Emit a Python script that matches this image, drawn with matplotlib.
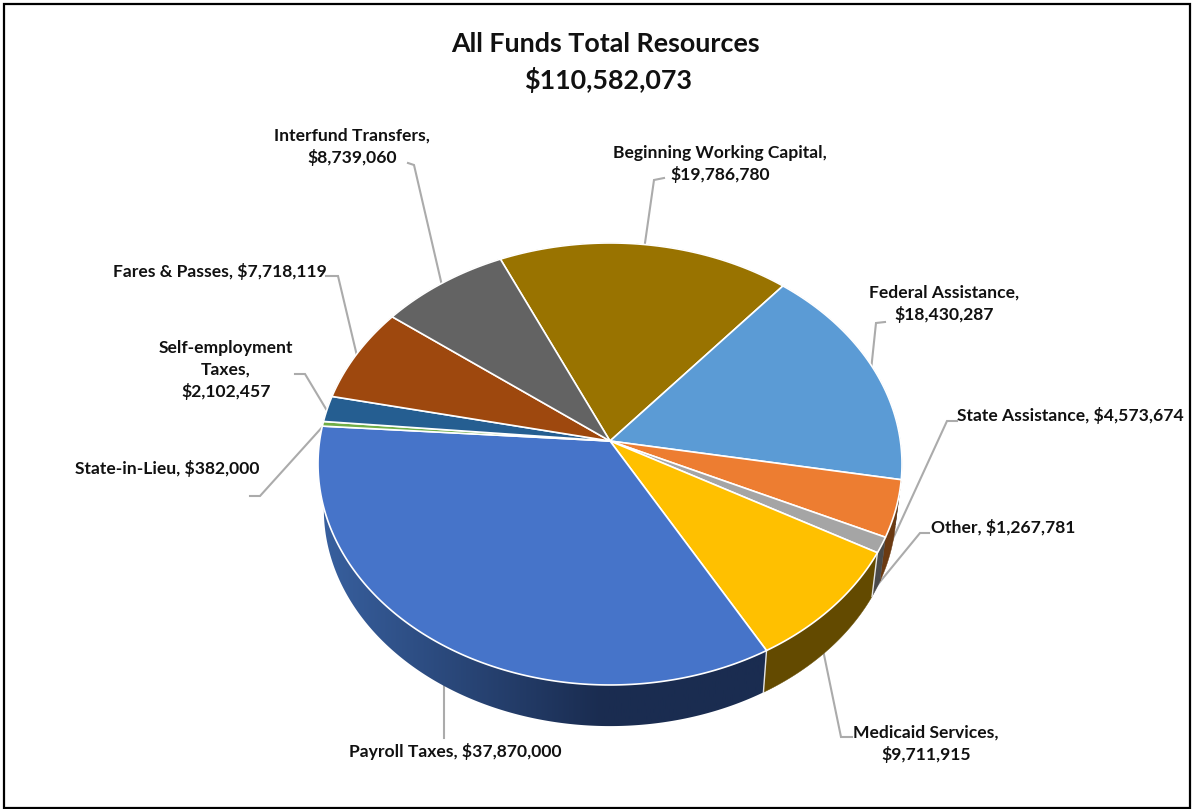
import numpy as np
import matplotlib
matplotlib.use("Agg")
import matplotlib.pyplot as plt
from matplotlib.colors import to_rgb

plt.rcParams['font.family'] = ['Lato', 'DejaVu Sans']

title = "All Funds Total Resources"
total_resources = 110582073

# clockwise from the top-left edge of Beginning Working Capital
names = ["Beginning Working Capital", "Federal Assistance", "State Assistance", "Other",
         "Medicaid Services", "Payroll Taxes", "State-in-Lieu", "Self-employment\nTaxes",
         "Fares & Passes", "Interfund Transfers"]
values = [19786780, 18430287, 4573674, 1267781, 9711915,
          37870000, 382000, 2102457, 7718119, 8739060]
top_colors = ["#997300", "#5B9BD5", "#ED7D31", "#A5A5A5", "#FFC000",
              "#4674C9", "#70AD47", "#255E91", "#9E480E", "#636363"]
side_colors = ["#5c4500", "#375d80", "#6b3a12", "#4a4a4a", "#634a00",
               "#1a2c50", "#436829", "#163857", "#5f2b08", "#3b3b3b"]

# label text anchor, alignment, line break after the name or not
label_pos = [(720, 164, "center", True), (944, 304, "center", True), (957, 415, "left", False),
             (931, 528, "left", False), (926, 744, "center", True), (349, 751, "left", False),
             (75, 468, "left", False), (226, 370, "center", True), (113, 272, "left", False),
             (352, 147, "center", True)]
leaders = [[(664, 178), (654, 180), (644, 250)],
           [(885, 322), (876, 323), (870, 380)],
           [(957, 421), (947, 421), (885, 556)],
           [(929, 533), (920, 533), (870, 594)],
           [(852, 737), (841, 737), (822, 645)],
           [(444, 738), (444, 680)],
           [(250, 496), (260, 496), (325, 424)],
           [(295, 374), (305, 374), (329, 414)],
           [(326, 276), (338, 276), (357, 356)],
           [(408, 163), (414, 165), (443, 290)]]

# projection of the pie disc on to the picture
cx, cy = 610, 441
rx, ry, persp = 290.4, 218.6, 0.104
start_deg = -24.4
depth, shrink = 46, 0.98


def rim(theta, bottom=False):
    X, Y = np.sin(theta), np.cos(theta)
    w = 1 + persp * Y
    x, y = rx * X / w, -ry * Y / w
    if bottom:
        return cx + shrink * x, cy + shrink * y + depth
    return cx + x, cy + y


fig = plt.figure(figsize=(11.94, 8.09), dpi=100)
ax = fig.add_axes([0, 0, 1, 1])

ax.add_patch(plt.Rectangle((4, 4), 1186, 804, fill=False, ec="black", lw=1.6, zorder=1))

for pts in leaders:
    ax.plot(*zip(*pts), color="#ABABAB", lw=1.5, zorder=2, solid_joinstyle="miter")

shares = np.array(values) / sum(values)
edges = np.radians(start_deg) + np.concatenate([[0], np.cumsum(shares)]) * 2 * np.pi

# side wall
for i in range(len(values)):
    t = np.linspace(edges[i], edges[i + 1], max(3, int(np.degrees(edges[i + 1] - edges[i]) * 2)))
    x0, y0 = rim(t)
    x1, y1 = rim(t, bottom=True)
    xs, ys = np.r_[x0, x1[::-1]], np.r_[y0, y1[::-1]]
    if names[i] == "Payroll Taxes":
        poly = ax.fill(xs, ys, facecolor="none", edgecolor="none", zorder=3)[0]
        light, dark = np.array(to_rgb("#38609f")), np.array(to_rgb(side_colors[i]))
        mix = np.clip(np.linspace(0, 1.6, 256), 0, 1)[:, None]
        ramp = (light * (1 - mix) + dark * mix)[None, :, :]
        im = ax.imshow(ramp, extent=(320, 770, 809, 0), aspect="auto", zorder=3)
        im.set_clip_path(poly)
    else:
        ax.fill(xs, ys, facecolor=side_colors[i], edgecolor=side_colors[i], lw=0.3, zorder=3)
    if names[i] == "Medicaid Services":
        ax.plot([x0[0], x1[0]], [y0[0], y1[0]], color="#e4e4e4", lw=1.0, zorder=3.5)
        ax.plot([x0[-1], x1[-1]], [y0[-1], y1[-1]], color="#e4e4e4", lw=1.0, zorder=3.5)

# top faces
for i in range(len(values)):
    t = np.linspace(edges[i], edges[i + 1], max(3, int(np.degrees(edges[i + 1] - edges[i]) * 2)))
    x, y = rim(t)
    ax.fill(np.r_[cx, x], np.r_[cy, y], facecolor=top_colors[i], edgecolor="white", lw=1.2,
            joinstyle="round", zorder=4)

# labels
for name, v, (x, y, ha, wrap) in zip(names, values, label_pos):
    sep = ",\n" if wrap else ", "
    ax.text(x, y, f"{name}{sep}${v:,}", ha=ha, va="center", multialignment="center",
            fontsize=12.6, fontweight="bold", color="#111111", linespacing=1.4, zorder=6)

ax.text(605, 44, title, ha="center", va="center", fontsize=19.4, fontweight="bold", color="#111111")
ax.text(608, 80, f"${total_resources:,}", ha="center", va="center", fontsize=19.4,
        fontweight="bold", color="#111111")

ax.set_xlim(0, 1194)
ax.set_ylim(809, 0)
ax.axis("off")

fig.savefig("out.png", dpi=100)
